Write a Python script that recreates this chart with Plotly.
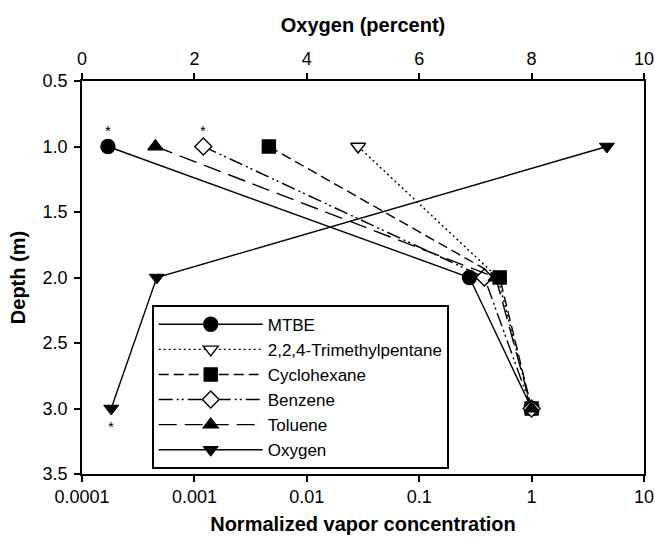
import plotly.graph_objects as go
import math

depth = [1.0, 2.0, 3.0]
mtbe = [0.00017, 0.28, 1.0]
tmp = [0.0286, 0.50, 1.0]
cyclohexane = [0.0046, 0.52, 1.0]
benzene = [0.0012, 0.38, 1.0]
toluene = [0.00045, 0.48, 1.0]
oxygen = [9.34, 1.33, 0.52]

x_ticks = [0.0001, 0.001, 0.01, 0.1, 1, 10]
x_ticklabels = ["0.0001", "0.001", "0.01", "0.1", "1", "10"]
o2_ticks = [0, 2, 4, 6, 8, 10]
y_ticks = [0.5, 1.0, 1.5, 2.0, 2.5, 3.0, 3.5]

# asterisk annotations (significance marks)
star_axis = ["x", "x", "x2"]
star_x = [0.00017, 0.0012, 0.52]
star_y = [1.0, 1.0, 3.0]
star_shift = [16, 16, -18]

FONT = "Liberation Sans, Arial, sans-serif"

series = [
    ("MTBE", mtbe, "solid", "circle", "black", 14),
    ("2,2,4-Trimethylpentane", tmp, "2px,3px", "triangle-down", "white", 13),
    ("Cyclohexane", cyclohexane, "10px,5px", "square", "black", 13),
    ("Benzene", benzene, "14px,4px,2px,3px,2px,4px", "diamond", "white", 13),
    ("Toluene", toluene, "18px,8px", "triangle-up", "black", 13),
]

fig = go.Figure()
for name, vals, dash, sym, fill, size in series:
    fig.add_trace(go.Scatter(
        x=vals, y=depth, name=name, mode="lines+markers",
        line=dict(color="black", width=1.4, dash=dash),
        marker=dict(symbol=sym, size=size, color=fill,
                    line=dict(color="black", width=1.4)),
        xaxis="x", yaxis="y"))

fig.add_trace(go.Scatter(
    x=oxygen, y=depth, name="Oxygen", mode="lines+markers",
    line=dict(color="black", width=1.4),
    marker=dict(symbol="triangle-down", size=13, color="black",
                line=dict(color="black", width=1)),
    xaxis="x2", yaxis="y"))

for ax, xv, yv, sh in zip(star_axis, star_x, star_y, star_shift):
    fig.add_annotation(
        x=math.log10(xv) if ax == "x" else xv, y=yv, xref=ax, yref="y",
        text="*", showarrow=False, yshift=sh,
        font=dict(size=15, color="black", family=FONT))

common = dict(ticks="outside", ticklen=6, tickwidth=1.7, tickcolor="black",
              showline=True, linecolor="black", linewidth=1.7, showgrid=False,
              zeroline=False, automargin=False,
              tickfont=dict(size=18, family=FONT, color="black"))

title_font = dict(size=20, family=FONT, weight="bold", color="black")

fig.update_layout(
    width=655, height=538,
    margin=dict(l=82, r=11, t=81, b=64),
    paper_bgcolor="white", plot_bgcolor="white",
    font=dict(family=FONT, size=18, color="black"),
    xaxis=dict(type="log", range=[-4, 1], tickvals=x_ticks, ticktext=x_ticklabels,
               ticklabelstandoff=0,
               title=dict(text="Normalized vapor concentration",
                          font=title_font, standoff=11),
               **common),
    xaxis2=dict(range=[0, 10], tickvals=o2_ticks, overlaying="x", side="top",
                ticklabelstandoff=1,
                title=dict(text="Oxygen (percent)", font=title_font, standoff=11),
                **common),
    yaxis=dict(range=[3.5, 0.5], tickvals=y_ticks, tickformat=".1f", mirror=True,
               ticklabelstandoff=3,
               title=dict(text="Depth (m)", font=title_font, standoff=12),
               **common),
    legend=dict(x=0.1246, y=0.43, xanchor="left", yanchor="top",
                bordercolor="black", borderwidth=1.7, bgcolor="white",
                font=dict(size=17, family=FONT, color="black"),
                itemwidth=104),
    showlegend=True,
)

fig.write_html("out.html", config={"displayModeBar": False},
               post_script="document.body.style.margin='0px';")
